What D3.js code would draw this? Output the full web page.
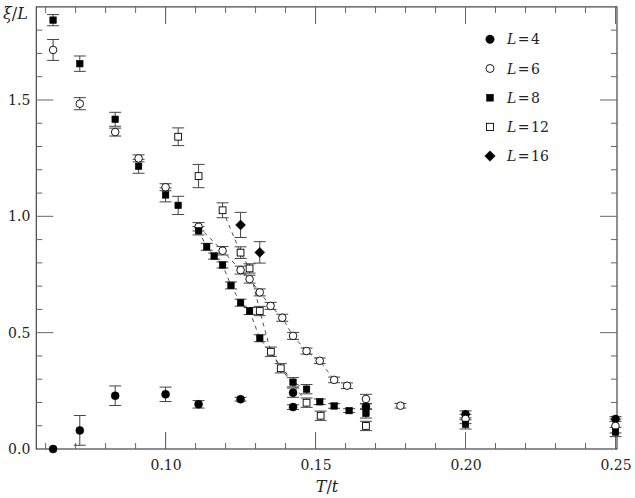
<!DOCTYPE html>
<html>
<head>
<meta charset="utf-8">
<script src="https://cdn.jsdelivr.net/npm/d3@7"></script>
<style>
  html, body { margin: 0; padding: 0; background: #fff; }
  svg { display: block; }
  text { font-family: "DejaVu Serif", "Liberation Serif", serif; fill: #222; }
</style>
</head>
<body>
<svg id="chart" width="635" height="498"></svg>
<script>
// ---- data ----
const L4_T   = [0.0625, 0.0714, 0.0832, 0.100, 0.111, 0.125, 0.1425, 0.1425, 0.1668, 0.200, 0.250];
const L4_xi  = [0.000, 0.080, 0.229, 0.235, 0.192, 0.214, 0.242, 0.180, 0.182, 0.149, 0.129];
const L4_err = [0.000, 0.064, 0.042, 0.031, 0.016, 0.008, 0.020, 0.010, 0.012, 0.015, 0.010];

const L6_T   = [0.0625, 0.0714, 0.0832, 0.091, 0.100, 0.111, 0.119, 0.125, 0.128, 0.1314, 0.135, 0.1389, 0.1425, 0.147, 0.1514, 0.1562, 0.1605, 0.1668, 0.1783, 0.200, 0.250];
const L6_xi  = [1.715, 1.484, 1.362, 1.249, 1.125, 0.955, 0.852, 0.769, 0.730, 0.673, 0.615, 0.564, 0.486, 0.421, 0.379, 0.297, 0.272, 0.215, 0.186, 0.129, 0.099];
const L6_err = [0.045, 0.026, 0.017, 0.015, 0.015, 0.018, 0.018, 0.017, 0.017, 0.015, 0.015, 0.015, 0.015, 0.013, 0.012, 0.012, 0.012, 0.020, 0.010, 0.020, 0.030];

const L8_T   = [0.0625, 0.0714, 0.0832, 0.091, 0.100, 0.1042, 0.111, 0.1137, 0.1162, 0.119, 0.1218, 0.125, 0.128, 0.1314, 0.1425, 0.147, 0.1514, 0.1562, 0.1612, 0.1668, 0.200, 0.250];
const L8_xi  = [1.843, 1.656, 1.417, 1.215, 1.092, 1.047, 0.938, 0.869, 0.829, 0.791, 0.703, 0.629, 0.593, 0.476, 0.287, 0.257, 0.203, 0.185, 0.165, 0.153, 0.106, 0.073];
const L8_err = [0.024, 0.033, 0.030, 0.030, 0.030, 0.039, 0.018, 0.015, 0.013, 0.013, 0.015, 0.015, 0.015, 0.015, 0.020, 0.020, 0.012, 0.010, 0.008, 0.020, 0.020, 0.020];

const L12_T   = [0.1042, 0.111, 0.119, 0.125, 0.128, 0.1314, 0.1351, 0.1384, 0.147, 0.1517, 0.1668];
const L12_xi  = [1.342, 1.173, 1.026, 0.844, 0.776, 0.593, 0.418, 0.347, 0.199, 0.143, 0.099];
const L12_err = [0.038, 0.050, 0.032, 0.025, 0.020, 0.020, 0.020, 0.020, 0.020, 0.020, 0.020];

const L16_T   = [0.125, 0.1314];
const L16_xi  = [0.963, 0.845];
const L16_err = [0.054, 0.046];

// T ranges joined by dashed guide lines
const L6_dash  = [0.111, 0.1562];
const L8_dash  = [0.111, 0.147];
const L12_dash = [0.119, 0.147];

const legendLabels = ["4", "6", "8", "12", "16"];
const xTickLabels = [0.10, 0.15, 0.20, 0.25];
const yTickLabels = [0.0, 0.5, 1.0, 1.5];

// ---- layout ----
const svg = d3.select("#chart");
const x = d3.scaleLinear().domain([0.0569, 0.2505]).range([36.3, 617]);
const y = d3.scaleLinear().domain([0, 1.9]).range([449, 6.9]);
const X0 = x.range()[0], X1 = x.range()[1], Y0 = y.range()[0], Y1 = y.range()[1];

// frame
svg.append("rect").attr("x", X0).attr("y", Y1).attr("width", X1 - X0).attr("height", Y0 - Y1)
  .attr("fill", "none").attr("stroke", "#333").attr("stroke-width", 1.1);

const minorX = d3.range(6, 25).map(d => d / 100);
const minorY = d3.range(1, 19).map(d => d / 10);
const tickCol = "#666";
const g = svg.append("g");
function tick(x1, y1, x2, y2) {
  g.append("line").attr("x1", x1).attr("y1", y1).attr("x2", x2).attr("y2", y2)
    .attr("stroke", tickCol).attr("stroke-width", 1);
}
minorX.forEach(v => {
  const major = xTickLabels.some(t => Math.abs(t - v) < 1e-9);
  const len = major ? 17 : 6;
  tick(x(v), Y0, x(v), Y0 - len);
  tick(x(v), Y1, x(v), Y1 + len);
});
xTickLabels.forEach(v => { tick(x(v), Y0, x(v), Y0 - 17); tick(x(v), Y1, x(v), Y1 + 17); });
minorY.forEach(v => {
  const major = yTickLabels.some(t => Math.abs(t - v) < 1e-9);
  const len = major ? 17 : 6;
  tick(X0, y(v), X0 + len, y(v));
  tick(X1, y(v), X1 - len, y(v));
});

// axes tick labels via d3 axes (ticks hidden, labels only)
const xAxis = d3.axisBottom(x).tickValues(xTickLabels).tickFormat(d3.format(".2f")).tickSize(0).tickPadding(11);
svg.append("g").attr("transform", `translate(0,${Y0})`).call(xAxis)
  .call(s => s.select(".domain").remove())
  .selectAll("text").attr("font-size", 14).attr("font-family", "DejaVu Serif").attr("fill", "#333");
const yAxis = d3.axisLeft(y).tickValues(yTickLabels).tickFormat(d3.format(".1f")).tickSize(0).tickPadding(6);
svg.append("g").attr("transform", `translate(${X0},0)`).call(yAxis)
  .call(s => s.select(".domain").remove())
  .selectAll("text").attr("font-size", 14).attr("font-family", "DejaVu Serif").attr("fill", "#333");

// axis titles
const yl = svg.append("text").attr("x", 3).attr("y", 19).attr("font-size", 16);
yl.append("tspan").attr("font-style", "italic").text("ξ");
yl.append("tspan").text("/");
yl.append("tspan").attr("font-style", "italic").text("L");
const xl = svg.append("text").attr("x", 327).attr("y", 492).attr("font-size", 16).attr("text-anchor", "middle");
xl.append("tspan").attr("font-style", "italic").text("T");
xl.append("tspan").text("/");
xl.append("tspan").attr("font-style", "italic").text("t");

// series
const zip = (T, V, E) => T.map((t, i) => ({ t, v: V[i], e: E[i] }));
const series = [
  { name: "4",  data: zip(L4_T, L4_xi, L4_err),  shape: "circle",  fill: true },
  { name: "6",  data: zip(L6_T, L6_xi, L6_err),  shape: "circle",  fill: false, dash: L6_dash },
  { name: "8",  data: zip(L8_T, L8_xi, L8_err),  shape: "square",  fill: true,  dash: L8_dash },
  { name: "12", data: zip(L12_T, L12_xi, L12_err), shape: "square", fill: false, dash: L12_dash },
  { name: "16", data: zip(L16_T, L16_xi, L16_err), shape: "diamond", fill: true }
];

// dashed guide lines
const line = d3.line().x(d => x(d.t)).y(d => y(d.v));
series.filter(s => s.dash).forEach(s => {
  const pts = s.data.filter(d => d.t >= s.dash[0] - 1e-9 && d.t <= s.dash[1] + 1e-9).sort((a, b) => a.t - b.t);
  svg.append("path").attr("d", line(pts)).attr("fill", "none")
    .attr("stroke", "#222").attr("stroke-width", 0.8).attr("stroke-dasharray", "4,4");
});

// error bars
const eg = svg.append("g");
series.forEach(s => s.data.forEach(d => {
  if (!d.e) return;
  const cx = x(d.t), y1 = y(d.v + d.e), y2 = y(d.v - d.e);
  eg.append("line").attr("x1", cx).attr("x2", cx).attr("y1", y1).attr("y2", y2).attr("stroke", "#444").attr("stroke-width", 1);
  [y1, y2].forEach(yy => eg.append("line").attr("x1", cx - 6).attr("x2", cx + 6).attr("y1", yy).attr("y2", yy)
    .attr("stroke", "#444").attr("stroke-width", 1));
}));

// markers
function marker(sel, shape, fill, cx, cy, scale) {
  const k = scale || 1;
  const fc = fill ? "#000" : "#fff";
  if (shape === "circle") {
    sel.append("circle").attr("cx", cx).attr("cy", cy).attr("r", (fill ? 4 : 3.8) * k)
      .attr("fill", fc).attr("stroke", "#000").attr("stroke-width", fill ? 0.5 : 0.9);
  } else if (shape === "square") {
    const h = (fill ? 3.3 : 3.4) * k;
    sel.append("rect").attr("x", cx - h).attr("y", cy - h).attr("width", 2 * h).attr("height", 2 * h)
      .attr("fill", fc).attr("stroke", "#000").attr("stroke-width", fill ? 0.5 : 0.9);
  } else {
    const h = 5 * k;
    sel.append("path").attr("d", `M${cx},${cy - h}L${cx + h},${cy}L${cx},${cy + h}L${cx - h},${cy}Z`)
      .attr("fill", fc).attr("stroke", "#000").attr("stroke-width", 0.5);
  }
}
const mg = svg.append("g");
series.forEach(s => s.data.forEach(d => marker(mg, s.shape, s.fill, x(d.t), y(d.v))));

// legend
const lg = svg.append("g");
series.forEach((s, i) => {
  const ly = 39.3 + i * 29.2;
  marker(lg, s.shape, s.fill, 490, ly, 1.05);
  const t = lg.append("text").attr("x", 507).attr("y", ly + 5).attr("font-size", 14);
  t.append("tspan").attr("font-style", "italic").text("L");
  t.append("tspan").attr("dx", 1.5).text("=");
  t.append("tspan").attr("dx", 1.5).text(legendLabels[i]);
});
</script>
</body>
</html>
